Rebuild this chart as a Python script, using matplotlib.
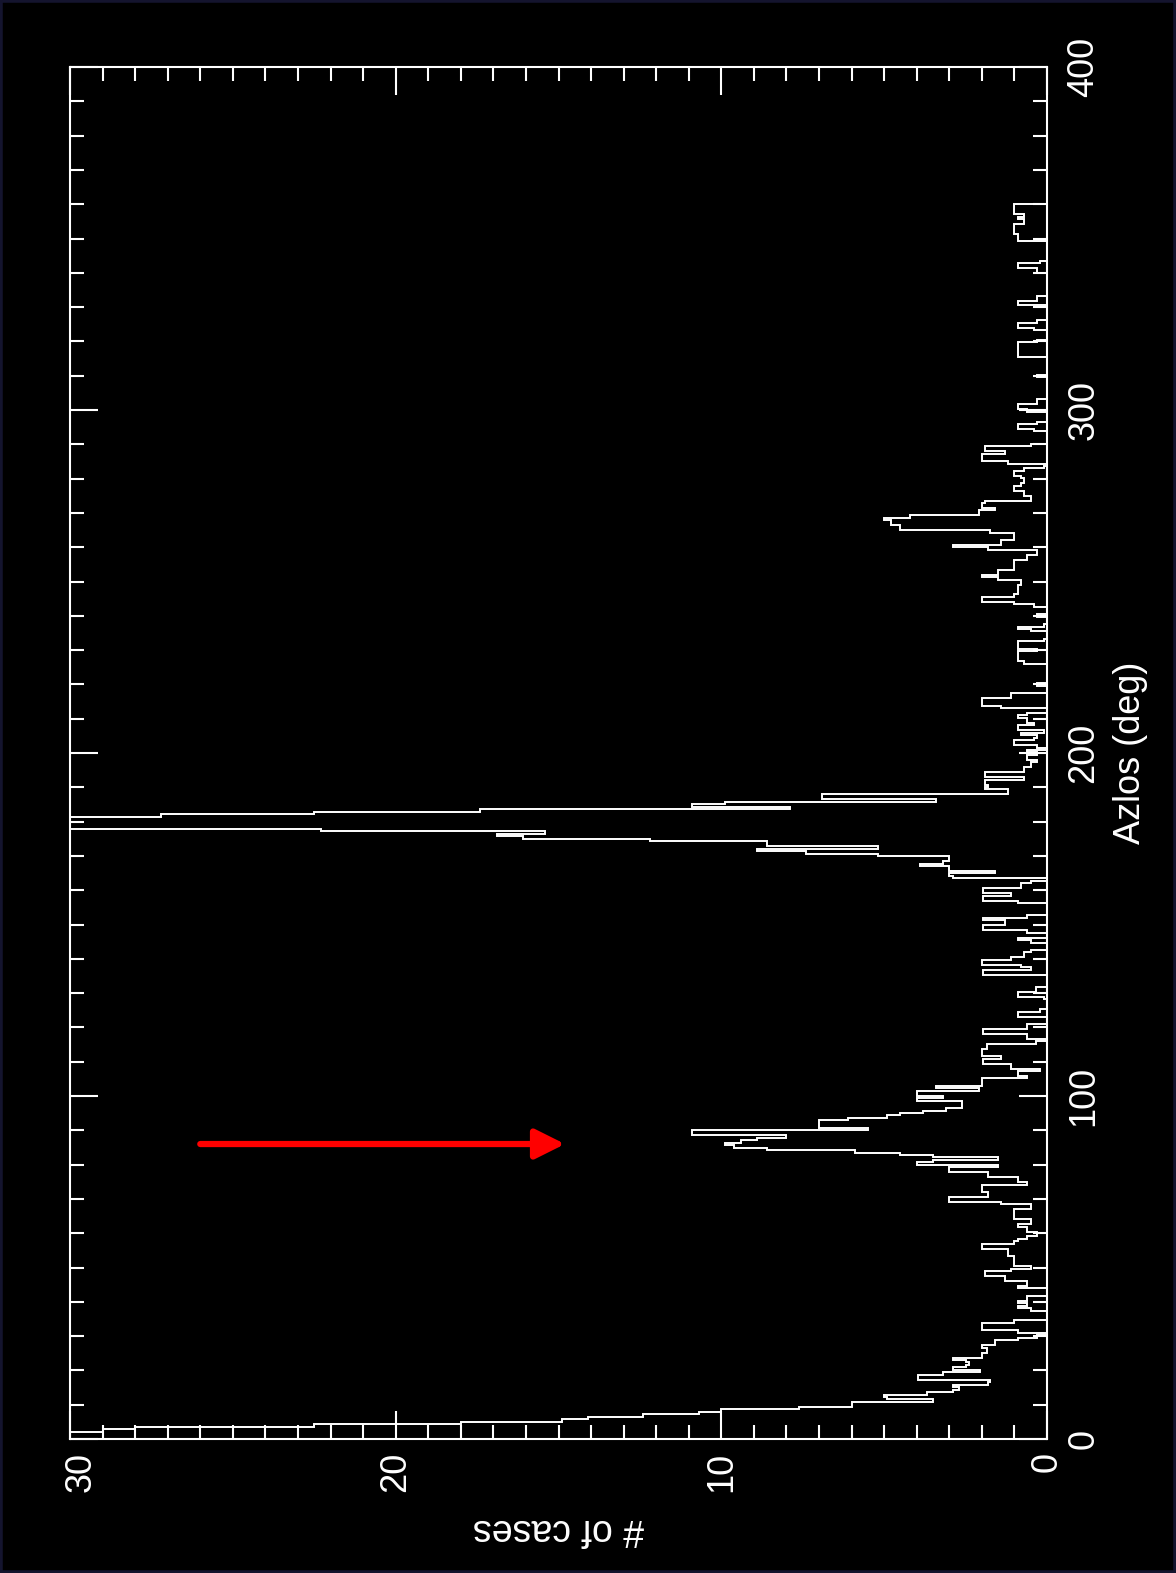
import numpy as np
import matplotlib.pyplot as plt
from matplotlib.patches import Rectangle
from matplotlib.ticker import MultipleLocator
from matplotlib.transforms import ScaledTranslation

# number of cases per azimuth bin, 0.72 deg bins from 0 to 360 deg
bin_width = 0.72
counts = [
    45, 40, 34, 29, 28, 22.5, 18, 14.9, 14.1, 12.4,
    10.7, 10.0, 7.6, 6.0, 6.0, 3.5, 4.9, 5.0, 3.7, 2.9,
    2.7, 2.9, 1.8, 1.75, 3.95, 3.95, 3.2, 2.05, 2.9, 2.5,
    2.4, 2.5, 2.9, 2.0, 2.0, 1.85, 1.85, 2.0, 1.6, 1.6,
    0.9, 0.3, 0, 0.9, 2.0, 2.0, 2.0, 1.0, 0, 0,
    0, 0, 0.5, 0.9, 0.6, 0.9, 0.6, 0.6, 0, 0,
    0, 0.9, 0.6, 0.6, 1.3, 1.3, 1.9, 1.9, 1.1, 0.5,
    1.0, 1.0, 1.0, 1.0, 1.2, 1.2, 1.2, 2.0, 2.0, 1.0,
    0.9, 0.6, 0.3, 0.3, 0.6, 0.6, 0.9, 0.5, 0.5, 1.0,
    1.0, 1.0, 1.0, 0.5, 0.5, 1.4, 3.0, 3.0, 1.8, 1.8,
    2.0, 2.0, 2.0, 0.6, 0.9, 0.9, 1.8, 1.8, 3.0, 3.0,
    1.5, 4.0, 3.5, 1.5, 3.5, 4.5, 5.9, 8.6, 9.6, 9.9,
    9.4, 8.9, 8.0, 10.9, 10.9, 5.5, 7.0, 7.0, 7.0, 6.1,
    4.9, 4.5, 3.8, 3.1, 2.6, 2.6, 2.6, 4.0, 3.2, 4.0,
    4.0, 2.1, 3.4, 2.0, 2.0, 2.0, 0.6, 0.9, 0.9, 0.2,
    1.1, 1.1, 1.95, 1.95, 1.4, 2.0, 2.0, 2.0, 1.85, 1.85,
    0.35, 0, 0.6, 0.6, 1.95, 1.95, 0.6, 0.6, 0, 0,
    0, 0.9, 0.9, 0.2, 0, 0, 0, 0, 0.1, 0.9,
    0.9, 0.35, 0.35, 0, 0, 0, 0, 0, 1.95, 1.95,
    0.5, 0.8, 2.0, 2.0, 1.1, 0.7, 0.7, 0.5, 0, 0,
    0, 0.5, 0.9, 0, 0, 0.6, 1.95, 1.95, 1.3, 1.3,
    1.95, 0.6, 0, 0, 0, 0, 0, 0.9, 1.95, 1.95,
    1.1, 1.95, 1.95, 0.8, 0.8, 0.5, 0, 2.9, 3.0, 1.6,
    3.0, 3.0, 3.9, 3.2, 3.0, 3.0, 5.2, 7.4, 8.9, 5.2,
    8.6, 8.6, 12.2, 16.1, 16.9, 15.4, 22.3, 38, 52, 60,
    48, 35, 27.2, 22.5, 17.4, 7.9, 10.9, 9.9, 3.4, 6.9,
    6.9, 1.2, 1.2, 1.9, 1.8, 1.9, 1.9, 0.7, 1.9, 1.9,
    0.7, 0.7, 0.5, 0.5, 0.3, 0.6, 0.6, 0.3, 0.6, 0,
    0.3, 1.0, 1.0, 0.4, 0.3, 0.8, 0.1, 0.9, 0.9, 0.4,
    0.6, 0.6, 0.9, 0.6, 0, 0, 1.4, 2.0, 2.0, 2.0,
    1.1, 1.1, 0, 0, 0, 0.3, 0, 0, 0, 0,
    0, 0, 0, 0, 0.7, 0.9, 0.9, 0.9, 0.9, 0.3,
    0.9, 0.9, 0.9, 0.1, 0, 0, 0, 0.5, 0.9, 0.1,
    0, 0, 0, 0.3, 0, 0, 0, 0.4, 1.0, 2.0,
    2.0, 1.0, 0.9, 0.9, 0.9, 0.9, 0.8, 0.8, 1.5, 2.0,
    1.5, 1.5, 1.0, 1.0, 1.0, 1.0, 0.6, 0.6, 0.3, 0.3,
    1.8, 2.9, 1.4, 1.4, 1.0, 1.0, 1.0, 1.75, 4.5, 4.5,
    4.8, 4.8, 5.0, 4.2, 2.1, 2.1, 1.6, 2.0, 2.0, 1.9,
    0.5, 0.5, 0.7, 0.7, 1.0, 1.0, 0.8, 0.7, 0.7, 0.8,
    1.0, 1.0, 0.7, 0.1, 0, 1.2, 2.0, 2.0, 2.0, 1.3,
    1.9, 1.9, 0.5, 0, 0, 0, 0, 0, 0.4, 0.9,
    0.9, 0.3, 0, 0, 0, 0, 0.6, 0.9, 0.9, 0.3,
    0.3, 0, 0, 0, 0, 0, 0, 0, 0, 0,
    0.3, 0, 0, 0, 0, 0, 0, 0, 0.9, 0.9,
    0.9, 0.9, 0.9, 0.9, 0.3, 0, 0, 0, 0, 0.4,
    0.9, 0.9, 0.3, 0, 0, 0, 0, 0, 0, 0.9,
    0.9, 0.3, 0.3, 0, 0, 0, 0, 0, 0, 0,
    0, 0, 0.3, 0.3, 0.9, 0.9, 0.2, 0, 0, 0,
    0, 0, 0, 0, 0, 0.9, 0.9, 0.9, 1.0, 1.0,
    1.0, 1.0, 0.7, 0.7, 0.9, 0.7, 1.0, 1.0, 1.0, 1.0,
]
edges = np.arange(len(counts) + 1) * bin_width

count_ticks = [30, 20, 10, 0]
az_ticks = [0, 100, 200, 300, 400]

# red pointer (count, azimuth)
arrow_tail = (26.0, 86.0)
arrow_head = (14.8, 86.0)

plt.rcParams['font.family'] = ['Liberation Sans', 'DejaVu Sans']

fig = plt.figure(figsize=(11.76, 15.73), dpi=100, facecolor='black')
W, H = 1176, 1573
ax = fig.add_axes([70 / W, (H - 1439) / H, 977 / W, 1372 / H])
ax.set_facecolor('black')

ax.stairs(counts, edges, orientation='horizontal', color='white', lw=1.4)

ax.set_xlim(30, 0)
ax.set_ylim(0, 400)

ax.set_xticks(count_ticks)
ax.set_yticks(az_ticks)
ax.xaxis.set_minor_locator(MultipleLocator(1))
ax.yaxis.set_minor_locator(MultipleLocator(10))

for s in ax.spines.values():
    s.set_color('white')
    s.set_linewidth(1.5)

ax.tick_params(which='both', direction='in', colors='white', width=1.5,
               top=True, bottom=True, left=True, right=True,
               labelleft=False, labelright=True, labelsize=26)
ax.tick_params(which='major', length=20)
ax.tick_params(which='minor', length=10)
ax.tick_params(axis='x', labelrotation=90, pad=9)
ax.tick_params(axis='y', labelrotation=90, pad=14)
for lab in ax.get_yticklabels():
    lab.set_va('center')

ax.yaxis.set_label_position('right')
ax.set_ylabel('Azlos (deg)', color='white', fontsize=26, rotation=90, labelpad=8)
ax.set_xlabel('# of cases', color='white', fontsize=27, rotation=180, labelpad=14)

# the "30" label sits a little inside the corner
fig.canvas.draw()
first = ax.xaxis.get_major_ticks()[0].label1
first.set_transform(first.get_transform() + ScaledTranslation(0.11, 0, fig.dpi_scale_trans))

ax.annotate('', xy=arrow_head, xytext=arrow_tail,
            arrowprops=dict(arrowstyle='-|>', color='red', lw=4.5,
                            mutation_scale=45, shrinkA=0, shrinkB=0))

fig.patches.append(Rectangle((0, 0), 1, 1, transform=fig.transFigure,
                             fill=False, edgecolor='#14142e', lw=4))

fig.savefig('out.png', dpi=100, facecolor='black')
